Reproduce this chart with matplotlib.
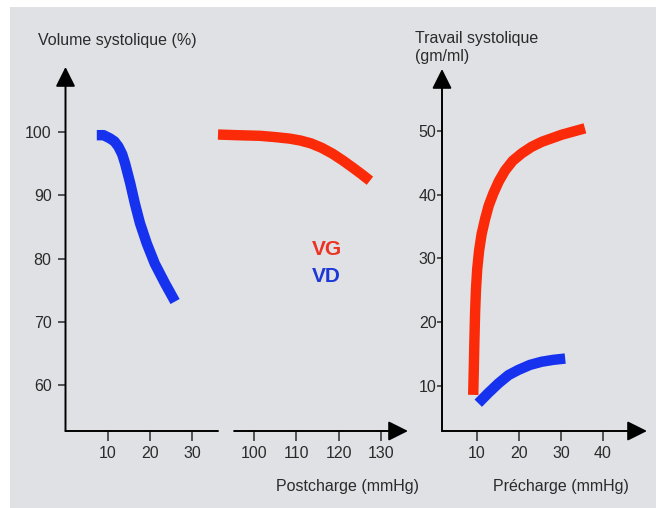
import matplotlib
matplotlib.use("Agg")
import matplotlib.pyplot as plt
from matplotlib.patches import Rectangle

plt.rcParams['font.family'] = ['Liberation Sans', 'DejaVu Sans']

# ---- data ----
vd_post_x = [7.4, 9.0, 10.5, 11.6, 12.5, 13.4, 14.1, 15.3, 16.4, 17.6, 19.2, 21.1, 23.5, 25.9]
vd_post_y = [99.5, 99.5, 99.0, 98.5, 97.7, 96.5, 95.0, 91.9, 88.7, 85.6, 82.4, 79.2, 76.1, 73.2]
vg_post_x = [91.5, 96, 101.4, 105, 108.5, 111, 113.5, 116, 118.5, 121, 123.5, 125.5, 127.4]
vg_post_y = [99.6, 99.5, 99.4, 99.2, 98.95, 98.65, 98.2, 97.5, 96.6, 95.5, 94.3, 93.3, 92.3]
vg_pre_x = [9.1, 9.25, 9.4, 9.55, 9.75, 10.05, 10.5, 11.1, 11.9, 12.8, 13.9, 15.2, 16.7, 18.5, 20.7, 23.0, 25.5, 30.2, 35.7]
vg_pre_y = [8.6, 13.0, 17.5, 21.5, 25.0, 28.3, 31.2, 33.8, 36.1, 38.3, 40.2, 42.1, 43.8, 45.3, 46.5, 47.5, 48.3, 49.4, 50.4]
vd_pre_x = [10.3, 12.7, 15.1, 17.5, 19.8, 22.6, 25.4, 28.2, 31.0]
vd_pre_y = [7.3, 8.9, 10.4, 11.7, 12.5, 13.3, 13.8, 14.1, 14.3]

left_xticks = [10, 20, 30]
post_xticks = [100, 110, 120, 130]
vs_yticks = [60, 70, 80, 90, 100]
pre_xticks = [10, 20, 30, 40]
ts_yticks = [10, 20, 30, 40, 50]

RED = '#fb2a08'
BLUE = '#1632ee'
BG = '#e0e1e5'
TXT = '#2b2b2b'
W, H = 656, 508

fig = plt.figure(figsize=(6.56, 5.08), dpi=100)
fig.patch.set_facecolor('white')
fig.add_artist(Rectangle((10 / W, 0), 1 - 10 / W, (H - 7) / H,
                         transform=fig.transFigure, facecolor=BG,
                         edgecolor='none', zorder=-10))


def fx(px):
    return px / W


def fy(py):
    return (H - py) / H


def make_ax(x0, x1, ytop):
    ax = fig.add_axes([fx(x0), fy(431), fx(x1) - fx(x0), fy(ytop) - fy(431)])
    ax.patch.set_visible(False)
    for s in ax.spines.values():
        s.set_visible(False)
    return ax


def arrow_line(ax, xy0, xy1, coords, head=True):
    style = '-|>' if head else '-'
    ax.annotate('', xy=xy1, xytext=xy0, xycoords=coords, textcoords=coords,
                arrowprops=dict(arrowstyle=style, color='black', lw=1.4,
                                mutation_scale=30, shrinkA=0, shrinkB=0),
                annotation_clip=False)


LW = 7.5
line_kw = dict(lw=LW, solid_capstyle='butt', solid_joinstyle='round', clip_on=False)
tick_kw = dict(labelsize=11.5, labelcolor=TXT, color=TXT, width=1.1)

# left chart: right ventricle vs postcharge (low x)
ax1 = make_ax(65.5, 218, 67)
ax1.set_xlim(0, 36.05)
ax1.set_ylim(52.73, 110.28)
ax1.plot(vd_post_x, vd_post_y, color=BLUE, **line_kw)
ax1.set_xticks(left_xticks)
ax1.set_yticks(vs_yticks)
ax1.tick_params(axis='x', direction='out', length=7, pad=4, **tick_kw)
ax1.tick_params(axis='y', direction='out', length=6, pad=4, **tick_kw)
arrow_line(ax1, (0, 0), (0, 1), 'axes fraction')
arrow_line(ax1, (0, 0), (1, 0), 'axes fraction', head=False)

# left chart: left ventricle vs postcharge (high x)
ax2 = make_ax(218, 408, 67)
ax2.set_xlim(91.5, 136.4)
ax2.set_ylim(52.73, 110.28)
ax2.plot(vg_post_x, vg_post_y, color=RED, **line_kw)
ax2.set_xticks(post_xticks)
ax2.set_yticks([])
ax2.tick_params(axis='x', direction='out', length=7, pad=4, **tick_kw)
arrow_line(ax2, (95.3, 0), (136.4, 0), ('data', 'axes fraction'))

# right chart: stroke work vs precharge
ax3 = make_ax(442, 647, 69)
ax3.set_xlim(1.67, 50.48)
ax3.set_ylim(2.94, 59.7)
ax3.plot(vg_pre_x, vg_pre_y, color=RED, **line_kw)
ax3.plot(vd_pre_x, vd_pre_y, color=BLUE, **line_kw)
ax3.set_xticks(pre_xticks)
ax3.set_yticks(ts_yticks)
ax3.tick_params(axis='x', direction='out', length=7, pad=4, **tick_kw)
ax3.tick_params(axis='y', direction='out', length=3.5, pad=0.5, **tick_kw)
arrow_line(ax3, (0, 0), (0, 1), 'axes fraction')
arrow_line(ax3, (0, 0), (1, 0), 'axes fraction')

# texts
fig.text(fx(38), fy(40), 'Volume systolique (%)', ha='left', va='center',
         fontsize=11.5, color=TXT)
fig.text(fx(415), fy(38), 'Travail systolique', ha='left', va='center',
         fontsize=11.5, color=TXT)
fig.text(fx(415), fy(57), '(gm/ml)', ha='left', va='center',
         fontsize=11.5, color=TXT)
fig.text(fx(276), fy(487), 'Postcharge (mmHg)', ha='left', va='center',
         fontsize=11.5, color=TXT)
fig.text(fx(493), fy(487), 'Précharge (mmHg)', ha='left', va='center',
         fontsize=11.5, color=TXT)
fig.text(fx(312), fy(255), 'VG', ha='left', va='baseline', fontsize=15,
         fontweight='bold', color='#ec3222')
fig.text(fx(312), fy(282), 'VD', ha='left', va='baseline', fontsize=15,
         fontweight='bold', color='#1e38d6')

fig.savefig('out.png', dpi=100, facecolor=fig.get_facecolor())
